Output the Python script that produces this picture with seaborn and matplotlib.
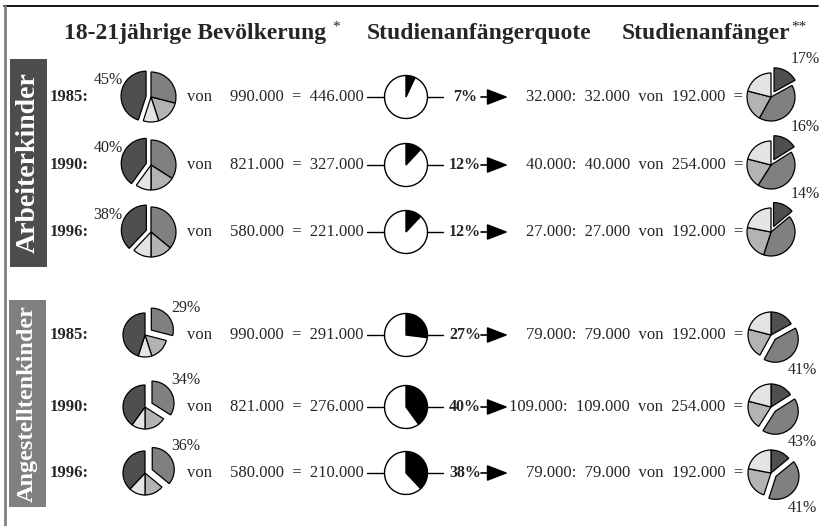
import matplotlib
matplotlib.use("Agg")
import matplotlib.pyplot as plt
from matplotlib.patches import Rectangle
import seaborn as sns

sns.set_theme(style="white")
plt.rcParams['font.family'] = ['Liberation Serif', 'DejaVu Serif']

# --- data ---
years = ["1985", "1990", "1996"]
bevoelkerung = ["990.000", "821.000", "580.000"]
arbeiter_anzahl = ["446.000", "327.000", "221.000"]
angest_anzahl = ["291.000", "276.000", "210.000"]
anfaenger_gesamt = ["192.000", "254.000", "192.000"]
arbeiter_anfaenger = ["32.000", "40.000", "27.000"]
angest_anfaenger = ["79.000", "109.000", "79.000"]

# 18-21jährige: Anteile (Arbeiter, Angestellte, Beamte, Selbständige)
bev_arbeiter = [45, 40, 38]
bev_angest = [29, 34, 36]
bev_beamte = [16, 16, 14]
bev_selbst = [10, 10, 12]

# Studienanfängerquote
quote_arbeiter = [7, 12, 12]
quote_angest = [27, 40, 38]

# Studienanfänger: Anteile
anf_arbeiter = [17, 16, 14]
anf_angest = [41, 43, 41]
anf_beamte = [21, 20, 23]
anf_selbst = [21, 21, 22]

# --- style ---
W, H = 823, 526
dark, mid, light, vlight = "#4f4f4f", "#808080", "#b3b3b3", "#e4e4e4"
wp = dict(edgecolor="black", linewidth=0.9)

fig = plt.figure(figsize=(W / 100, H / 100), dpi=100)
ax = fig.add_axes([0, 0, 1, 1])


def Y(v):
    return H - v


# frame
ax.plot([4, 818], [Y(6), Y(6)], color="black", lw=1.3)
ax.plot([5, 5], [Y(6), Y(526)], color="#808080", lw=2)

# titles
ax.text(64, Y(33), "18-21jährige Bevölkerung", fontsize=17, fontweight="bold", ha="left", va="center")
ax.text(332, Y(27), "*", fontsize=11, ha="left", va="center")
ax.text(367, Y(33), "Studienanfängerquote", fontsize=17, fontweight="bold", ha="left", va="center")
ax.text(622, Y(33), "Studienanfänger", fontsize=17, fontweight="bold", ha="left", va="center")
ax.text(791, Y(27), "**", fontsize=11, ha="left", va="center")

# side boxes
groups = [
    dict(name="Arbeiterkinder", box=(10, 59, 37, 208), color="#4d4d4d", fs=20,
         rows=[97, 165, 232], pop=bev_arbeiter, quote=quote_arbeiter,
         count=arbeiter_anzahl, anf=arbeiter_anfaenger, share=anf_arbeiter,
         r1=25, c1=151, r3=24),
    dict(name="Angestelltenkinder", box=(9, 300, 37, 207), color="#808080", fs=17.5,
         rows=[335, 407, 473], pop=bev_angest, quote=quote_angest,
         count=angest_anzahl, anf=angest_anfaenger, share=anf_angest,
         r1=22, c1=145, r3=23),
]

for gi, g in enumerate(groups):
    bx, by, bw, bh = g["box"]
    ax.add_patch(Rectangle((bx, Y(by + bh)), bw, bh, color=g["color"], lw=0))
    ax.text(bx + bw / 2, Y(by + bh / 2), g["name"], rotation=90, color="white",
            fontsize=g["fs"], fontweight="bold", ha="center", va="center")

    for i, row in enumerate(g["rows"]):
        y = Y(row)
        ax.text(50, y, years[i] + ":", fontsize=12, fontweight="bold", ha="left", va="center")

        # population pie
        pop = [bev_angest[i], bev_beamte[i], bev_selbst[i], bev_arbeiter[i]]
        expl = [0, 0, 0, 5] if gi == 0 else [8, 0, 0, 0]
        ax.pie(pop, colors=[mid, light, vlight, dark], startangle=90, counterclock=False,
               center=(g["c1"], y), radius=g["r1"], explode=expl, wedgeprops=wp, frame=True)
        if gi == 0:
            ax.text(108, y + 17, f"{g['pop'][i]}%", fontsize=11.5, ha="center", va="center")
        else:
            ax.text(186, y + 27, f"{g['pop'][i]}%", fontsize=11.5, ha="center", va="center")

        ax.text(200, y, "von", fontsize=12, ha="center", va="center")
        ax.text(364, y, f"{bevoelkerung[i]}  =  {g['count'][i]}", fontsize=12, ha="right", va="center")

        # quote pie
        r2 = 21.5
        cx = 406
        ax.plot([367, cx - r2], [y, y], color="black", lw=1)
        ax.plot([cx + r2, 443], [y, y], color="black", lw=1)
        q = g["quote"][i]
        ax.pie([q, 100 - q], colors=["black", "white"], startangle=90, counterclock=False,
               center=(cx, y), radius=r2, wedgeprops=dict(edgecolor="black", linewidth=1), frame=True)
        ax.text(465, y, f"{q}%", fontsize=11.5, fontweight="bold", ha="center", va="center")
        ax.annotate("", xy=(508, y), xytext=(481, y),
                    arrowprops=dict(arrowstyle="-|>,head_length=1.3,head_width=0.5",
                                    color="black", lw=1.2, shrinkA=0, shrinkB=0, mutation_scale=10))

        ax.text(743, y, f"{g['anf'][i]}:  {g['anf'][i]}  von  {anfaenger_gesamt[i]}  =",
                fontsize=12, ha="right", va="center")

        # Studienanfänger pie
        anf = [anf_arbeiter[i], anf_angest[i], anf_beamte[i], anf_selbst[i]]
        expl = [6, 0, 0, 0] if gi == 0 else [0, 6, 0, 0]
        ax.pie(anf, colors=[dark, mid, light, vlight], startangle=90, counterclock=False,
               center=(771, y), radius=g["r3"], explode=expl, wedgeprops=wp, frame=True)
        if gi == 0:
            ax.text(805, y + 38, f"{g['share'][i]}%", fontsize=11.5, ha="center", va="center")
        else:
            ax.text(802, y - 35, f"{g['share'][i]}%", fontsize=11.5, ha="center", va="center")

ax.set_xlim(0, W)
ax.set_ylim(0, H)
ax.set_aspect("auto")
ax.axis("off")

fig.savefig("out.png", dpi=100)
